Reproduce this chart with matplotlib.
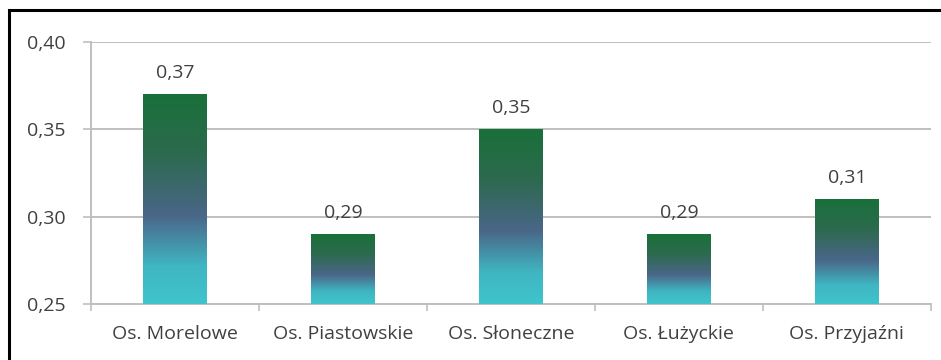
import numpy as np
import matplotlib.pyplot as plt
from matplotlib.colors import LinearSegmentedColormap
from matplotlib.patches import Rectangle

# Estate names and their index values
estates = ["Os. Morelowe", "Os. Piastowskie", "Os. Słoneczne", "Os. Łużyckie", "Os. Przyjaźni"]
values = [0.37, 0.29, 0.35, 0.29, 0.31]
y_ticks = [0.25, 0.30, 0.35, 0.40]

TEXT = "#404040"
GRID = "#bfbfbf"
FS = 14

plt.rcParams["font.family"] = ["Open Sans", "DejaVu Sans"]

# green at the top of each bar, slate in the middle, cyan at the base
bar_cmap = LinearSegmentedColormap.from_list(
    "bar_grad",
    [(0.0, "#40c4cc"), (0.18, "#3fb6c2"), (0.42, "#4a6688"), (0.72, "#2c6a4e"), (1.0, "#19703a")],
)

fig = plt.figure(figsize=(9.41, 3.6), dpi=100)
ax = fig.add_axes([0.0967, 0.1556, 0.8925, 0.7277])

x = np.arange(len(estates))
bars = ax.bar(x, np.array(values) - 0.25, bottom=0.25, width=0.38,
              facecolor="none", edgecolor="none", zorder=3)

grad = np.linspace(0, 1, 256).reshape(-1, 1)
for b, v in zip(bars, values):
    x0, y0 = b.get_x(), b.get_y()
    im = ax.imshow(grad, cmap=bar_cmap, origin="lower", aspect="auto",
                   extent=(x0, x0 + b.get_width(), y0, y0 + b.get_height()),
                   zorder=3, interpolation="bilinear")
    im.set_clip_path(b)
    ax.annotate(f"{v:.2f}".replace(".", ","), (b.get_x() + b.get_width() / 2, v),
                xytext=(0, 9), textcoords="offset points",
                ha="center", va="bottom", fontsize=FS, color=TEXT)

ax.set_xlim(-0.5, len(estates) - 0.5)
ax.set_ylim(0.25, 0.40)
ax.set_yticks(y_ticks)
ax.set_yticklabels([f"{t:.2f}".replace(".", ",") for t in y_ticks])
ax.set_xticks(x)
ax.set_xticklabels(estates)
ax.set_xticks(np.arange(len(estates) + 1) - 0.5, minor=True)

ax.tick_params(axis="x", which="major", length=0, pad=15, labelsize=FS, labelcolor=TEXT)
ax.tick_params(axis="x", which="minor", length=5, color=GRID, width=1.2)
ax.tick_params(axis="y", length=6, color=GRID, width=1.2, pad=12,
               labelsize=FS, labelcolor=TEXT)

ax.grid(axis="y", color=GRID, linewidth=1.4, zorder=0)
ax.set_axisbelow(True)
for side in ("top", "right"):
    ax.spines[side].set_visible(False)
for side in ("left", "bottom"):
    ax.spines[side].set_color(GRID)
    ax.spines[side].set_linewidth(1.4)

# frame around the chart area
fig.patches.append(Rectangle((9 / 941, -0.2), 1.1, 1.2 - 10 / 360,
                             transform=fig.transFigure, fill=False,
                             edgecolor="black", linewidth=2.2))

fig.savefig("out.png", dpi=100, facecolor="white")
